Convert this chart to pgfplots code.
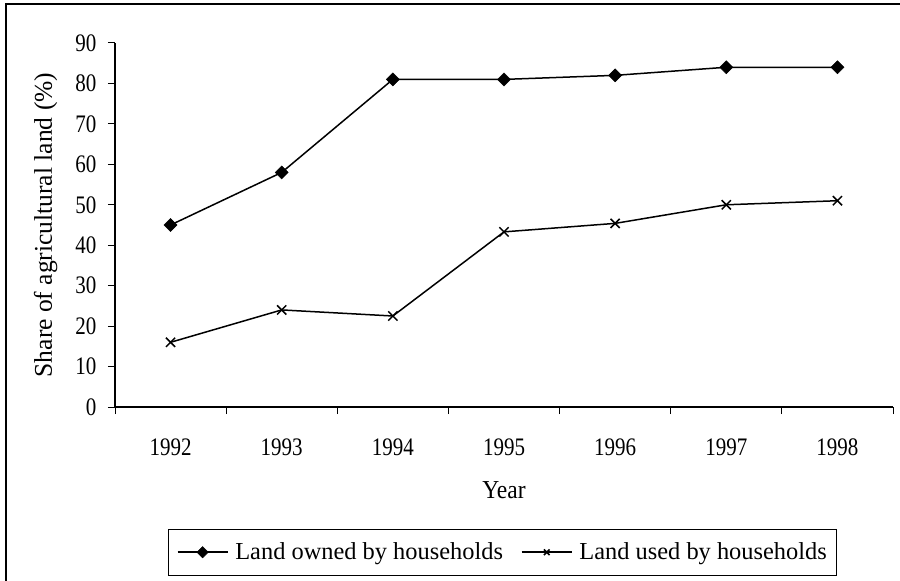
\documentclass[border=0pt]{standalone}
\usepackage{pgfplots}
\pgfplotsset{compat=1.18}
\usepackage{fontspec}
\setmainfont{Liberation Serif}
\newcommand{\tickf}{\fontsize{21bp}{25bp}\selectfont}
\newcommand{\xlabf}{\fontsize{23.5bp}{28bp}\selectfont}
\newcommand{\ylabf}{\fontsize{25.5bp}{30bp}\selectfont}
\newcommand{\legf}{\fontsize{24.4bp}{29bp}\selectfont}
\begin{document}
\begin{tikzpicture}
\path[use as bounding box] (0bp,0bp) rectangle (900bp,581bp);
\draw[line width=1.5bp] (6bp,-5bp) -- (6bp,577bp) -- (905bp,577bp);
\begin{axis}[
  at={(115bp,174bp)}, anchor=south west,
  scale only axis, width=778bp, height=364bp,
  xmin=-0.5, xmax=6.5, ymin=0, ymax=90,
  axis lines*=left,
  axis line style={line width=1.2bp},
  tick align=outside,
  major tick length=7bp, minor tick length=7bp,
  every tick/.style={black, line width=1bp},
  xtick={0,...,6},
  xticklabels={1992,1993,1994,1995,1996,1997,1998},
  major x tick style={draw=none},
  minor xtick={-0.5,0.5,...,6.5},
  ytick={0,10,...,90},
  /pgf/number format/assume math mode=true,
  tick label style={font=\tickf, yscale=1.2},
  xticklabel style={yshift=-17bp},
  yticklabel style={xshift=-8bp},
  xlabel={Year},
  ylabel={Share of agricultural land (\%)},
  every axis x label/.style={at={(axis description cs:0.5,-0.228)}, anchor=center, font=\xlabf, yscale=1.1},
  every axis y label/.style={at={(axis description cs:-0.089,0.5)}, anchor=center, rotate=90, font=\ylabf},
  legend columns=2,
  legend style={at={(axis description cs:0.4985,-0.399)}, anchor=center,
    draw=black, line width=1bp, inner xsep=8bp, inner ysep=12bp,
    font=\legf,
    /tikz/every odd column/.append style={column sep=5bp},
    /tikz/every even column/.append style={column sep=16bp}},
  legend image code/.code={\draw[mark size=4bp, mark repeat=2, mark phase=2] plot coordinates {(0bp,0bp) (25bp,0bp) (50bp,0bp)};},
]
\addplot[black, line width=1.5bp, mark=square*, mark size=4.6bp, mark options={solid, fill=black, line width=0.5bp, rotate=45}]
  coordinates {(0,45) (1,58) (2,81) (3,81) (4,82) (5,84) (6,84)};
\addlegendentry{Land owned by households}
\addplot[black, line width=1.5bp, mark=x, mark size=6.5bp, mark options={solid, line width=1.5bp}]
  coordinates {(0,16) (1,24) (2,22.5) (3,43.3) (4,45.4) (5,50) (6,51)};
\addlegendentry{Land used by households}
\end{axis}
\end{tikzpicture}
\end{document}
